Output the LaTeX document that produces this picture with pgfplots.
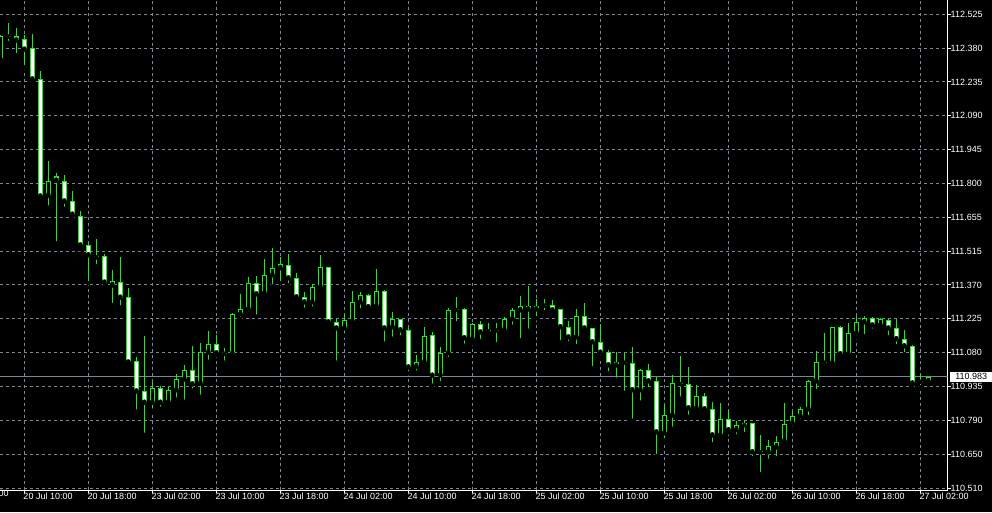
\documentclass[border=0pt]{standalone}
\usepackage{pgfplots}
\pgfplotsset{compat=1.18}
\usepackage{pgfplotstable}
\usepackage{fontspec}
\setmainfont{Liberation Sans}
\definecolor{gridc}{RGB}{119,136,153}
\definecolor{candle}{RGB}{0,255,0}

\pgfplotstableread{
i O H L C
0 112.333 112.437 112.326 112.433
1 112.431 112.488 112.403 112.430
2 112.433 112.467 112.350 112.414
3 112.418 112.437 112.299 112.375
4 112.380 112.441 112.235 112.248
5 112.250 112.284 111.731 111.750
6 111.754 111.899 111.703 111.818
7 111.839 111.848 111.550 111.818
8 111.818 111.841 111.697 111.729
9 111.731 111.773 111.663 111.673
10 111.669 111.688 111.525 111.542
11 111.542 111.548 111.381 111.500
12 111.499 111.569 111.454 111.491
13 111.495 111.505 111.367 111.384
14 111.372 111.437 111.288 111.389
15 111.388 111.493 111.278 111.320
16 111.323 111.361 111.039 111.044
17 111.050 111.066 110.835 110.921
18 110.923 111.157 110.736 110.873
19 110.873 110.961 110.839 110.935
20 110.935 110.944 110.847 110.873
21 110.875 110.938 110.869 110.926
22 110.926 110.995 110.886 110.972
23 110.972 111.033 110.877 111.011
24 111.011 111.114 110.924 110.951
25 110.954 111.127 110.898 111.087
26 111.086 111.178 111.047 111.121
27 111.121 111.160 111.075 111.083
28 111.082 111.106 111.043 111.081
29 111.081 111.253 111.077 111.249
30 111.249 111.335 111.228 111.270
31 111.270 111.409 111.251 111.381
32 111.381 111.412 111.239 111.334
33 111.338 111.484 111.320 111.415
34 111.415 111.530 111.368 111.445
35 111.445 111.491 111.381 111.462
36 111.457 111.505 111.372 111.402
37 111.402 111.423 111.307 111.321
38 111.321 111.344 111.268 111.300
39 111.300 111.377 111.273 111.364
40 111.364 111.501 111.363 111.449
41 111.449 111.451 111.211 111.215
42 111.215 111.228 111.043 111.189
43 111.189 111.245 111.158 111.223
44 111.219 111.347 111.215 111.300
45 111.300 111.342 111.266 111.330
46 111.330 111.334 111.274 111.279
47 111.283 111.440 111.279 111.347
48 111.347 111.351 111.124 111.189
49 111.194 111.257 111.145 111.228
50 111.228 111.229 111.151 111.181
51 111.181 111.189 110.998 111.023
52 111.026 111.075 111.001 111.045
53 111.045 111.194 111.044 111.155
54 111.160 111.172 110.945 110.988
55 110.989 111.109 110.955 111.083
56 111.083 111.274 111.058 111.266
57 111.269 111.321 111.211 111.267
58 111.270 111.274 111.115 111.147
59 111.143 111.211 111.126 111.206
60 111.206 111.219 111.135 111.172
61 111.172 111.211 111.157 111.182
62 111.181 111.211 111.121 111.180
63 111.181 111.236 111.177 111.228
64 111.228 111.274 111.196 111.266
65 111.266 111.325 111.138 111.283
66 111.283 111.369 111.179 111.270
67 111.270 111.313 111.232 111.283
68 111.286 111.313 111.257 111.285
69 111.287 111.308 111.253 111.266
70 111.270 111.272 111.130 111.194
71 111.194 111.219 111.126 111.151
72 111.151 111.270 111.113 111.240
73 111.240 111.296 111.188 111.189
74 111.189 111.190 111.019 111.130
75 111.130 111.206 111.066 111.086
76 111.087 111.096 110.998 111.032
77 111.032 111.087 110.970 111.045
78 111.044 111.083 110.915 111.043
79 111.041 111.109 110.796 110.926
80 110.926 111.015 110.873 111.011
81 111.011 111.036 110.930 110.964
82 110.964 110.981 110.645 110.747
83 110.743 110.862 110.713 110.819
84 110.819 110.989 110.762 110.955
85 110.954 111.072 110.890 110.952
86 110.951 111.023 110.813 110.849
87 110.849 110.947 110.845 110.900
88 110.900 110.913 110.828 110.845
89 110.845 110.875 110.696 110.734
90 110.734 110.870 110.726 110.802
91 110.802 110.841 110.747 110.756
92 110.756 110.794 110.730 110.777
93 110.777 110.798 110.739 110.785
94 110.785 110.786 110.636 110.662
95 110.662 110.734 110.568 110.661
96 110.662 110.713 110.626 110.687
97 110.683 110.730 110.636 110.704
98 110.709 110.870 110.703 110.781
99 110.785 110.836 110.764 110.815
100 110.815 110.853 110.794 110.845
101 110.845 110.968 110.811 110.964
102 110.964 111.092 110.921 111.045
103 111.044 111.168 111.023 111.043
104 111.041 111.195 111.032 111.194
105 111.194 111.198 111.070 111.079
106 111.079 111.211 111.070 111.168
107 111.168 111.240 111.151 111.215
108 111.215 111.240 111.155 111.232
109 111.232 111.236 111.179 111.202
110 111.202 111.232 111.201 111.228
111 111.223 111.228 111.151 111.189
112 111.189 111.228 111.113 111.143
113 111.143 111.181 111.079 111.113
114 111.113 111.117 110.947 110.955
115 110.963 110.994 110.938 110.962
116 110.964 110.984 110.963 110.983
}\bars

\begin{document}
\begin{tikzpicture}[x=1pt,y=1pt]
\fill[black] (0,0) rectangle (992,512);
\useasboundingbox (0,0) rectangle (992,512);
\begin{axis}[
  at={(0pt,22pt)}, anchor=south west,
  scale only axis, width=947.5pt, height=490pt,
  xmin=-0.0375, xmax=118.40, ymin=110.5016, ymax=112.5858,
  axis x line*=bottom, axis y line*=right,
  axis line style={white, line width=1pt, -},
  tick style={white, line width=1pt},
  major tick length=3pt, tick align=outside,
  xtick={3,11,...,115},
  xticklabels={20 Jul 10:00,20 Jul 18:00,23 Jul 02:00,23 Jul 10:00,23 Jul 18:00,24 Jul 02:00,24 Jul 10:00,24 Jul 18:00,25 Jul 02:00,25 Jul 10:00,25 Jul 18:00,26 Jul 02:00,26 Jul 10:00,26 Jul 18:00,27 Jul 02:00},
  ytick={112.5250,112.3811,112.2371,112.0932,111.9493,111.8054,111.6614,111.5175,111.3736,111.2296,111.0857,110.9418,110.7979,110.6539,110.5100},
  yticklabels={112.525,112.380,112.235,112.090,111.945,111.800,111.655,111.515,111.370,111.225,111.080,110.935,110.790,110.650,110.510},
  xticklabel style={text=white, font=\fontsize{9}{10}\selectfont, anchor=north west, inner sep=0pt, xshift=-1pt},
  yticklabel style={text=white, font=\fontsize{9}{10}\selectfont, anchor=west, inner sep=0pt},
  grid=major,
  major grid style={gridc, line width=1pt, dash pattern=on 3pt off 3pt},
  clip mode=individual,
]
% current price line
\addplot[gridc, line width=1pt] coordinates {(-1,110.983) (120,110.983)};
% wicks
\addplot[only marks, mark=none, error bars/.cd, y dir=plus, y explicit, error mark=none,
  error bar style={draw=candle, line width=1pt}]
  table[x=i, y=L, y error plus expr=\thisrow{H}-\thisrow{L}] {\bars};
% body outlines
\addplot[only marks, mark=none, error bars/.cd, y dir=plus, y explicit, error mark=none,
  error bar style={draw=candle, line width=5pt, line cap=butt}]
  table[x=i, y expr={min(\thisrow{O},\thisrow{C})}, y error plus expr={max(abs(\thisrow{C}-\thisrow{O}),0.00425)}] {\bars};
% bear bodies (white fill)
\addplot[only marks, mark=none, restrict expr to domain={\thisrow{O}-\thisrow{C}}{0.0086:10},
  error bars/.cd, y dir=plus, y explicit, error mark=none,
  error bar style={draw=white, line width=3pt, line cap=butt}]
  table[x=i, y expr={\thisrow{C}+0.00425}, y error plus expr={\thisrow{O}-\thisrow{C}-0.0085}] {\bars};
% bull bodies (black fill)
\addplot[only marks, mark=none, restrict expr to domain={\thisrow{C}-\thisrow{O}}{0.0086:10},
  error bars/.cd, y dir=plus, y explicit, error mark=none,
  error bar style={draw=black, line width=3pt, line cap=butt}]
  table[x=i, y expr={\thisrow{O}+0.00425}, y error plus expr={\thisrow{C}-\thisrow{O}-0.0085}] {\bars};
\node[anchor=north west, inner sep=0pt, text=white, font=\fontsize{9}{10}\selectfont, xshift=-1pt] at (axis cs:-5,110.5016) {20 Jul 02:00};
\node[fill=white, text=black, anchor=west, minimum width=42pt, minimum height=10pt, inner sep=0pt, font=\fontsize{9}{10}\selectfont, xshift=2.5pt] at (axis cs:118.40,110.983) {110.983};
\end{axis}
\end{tikzpicture}
\end{document}
